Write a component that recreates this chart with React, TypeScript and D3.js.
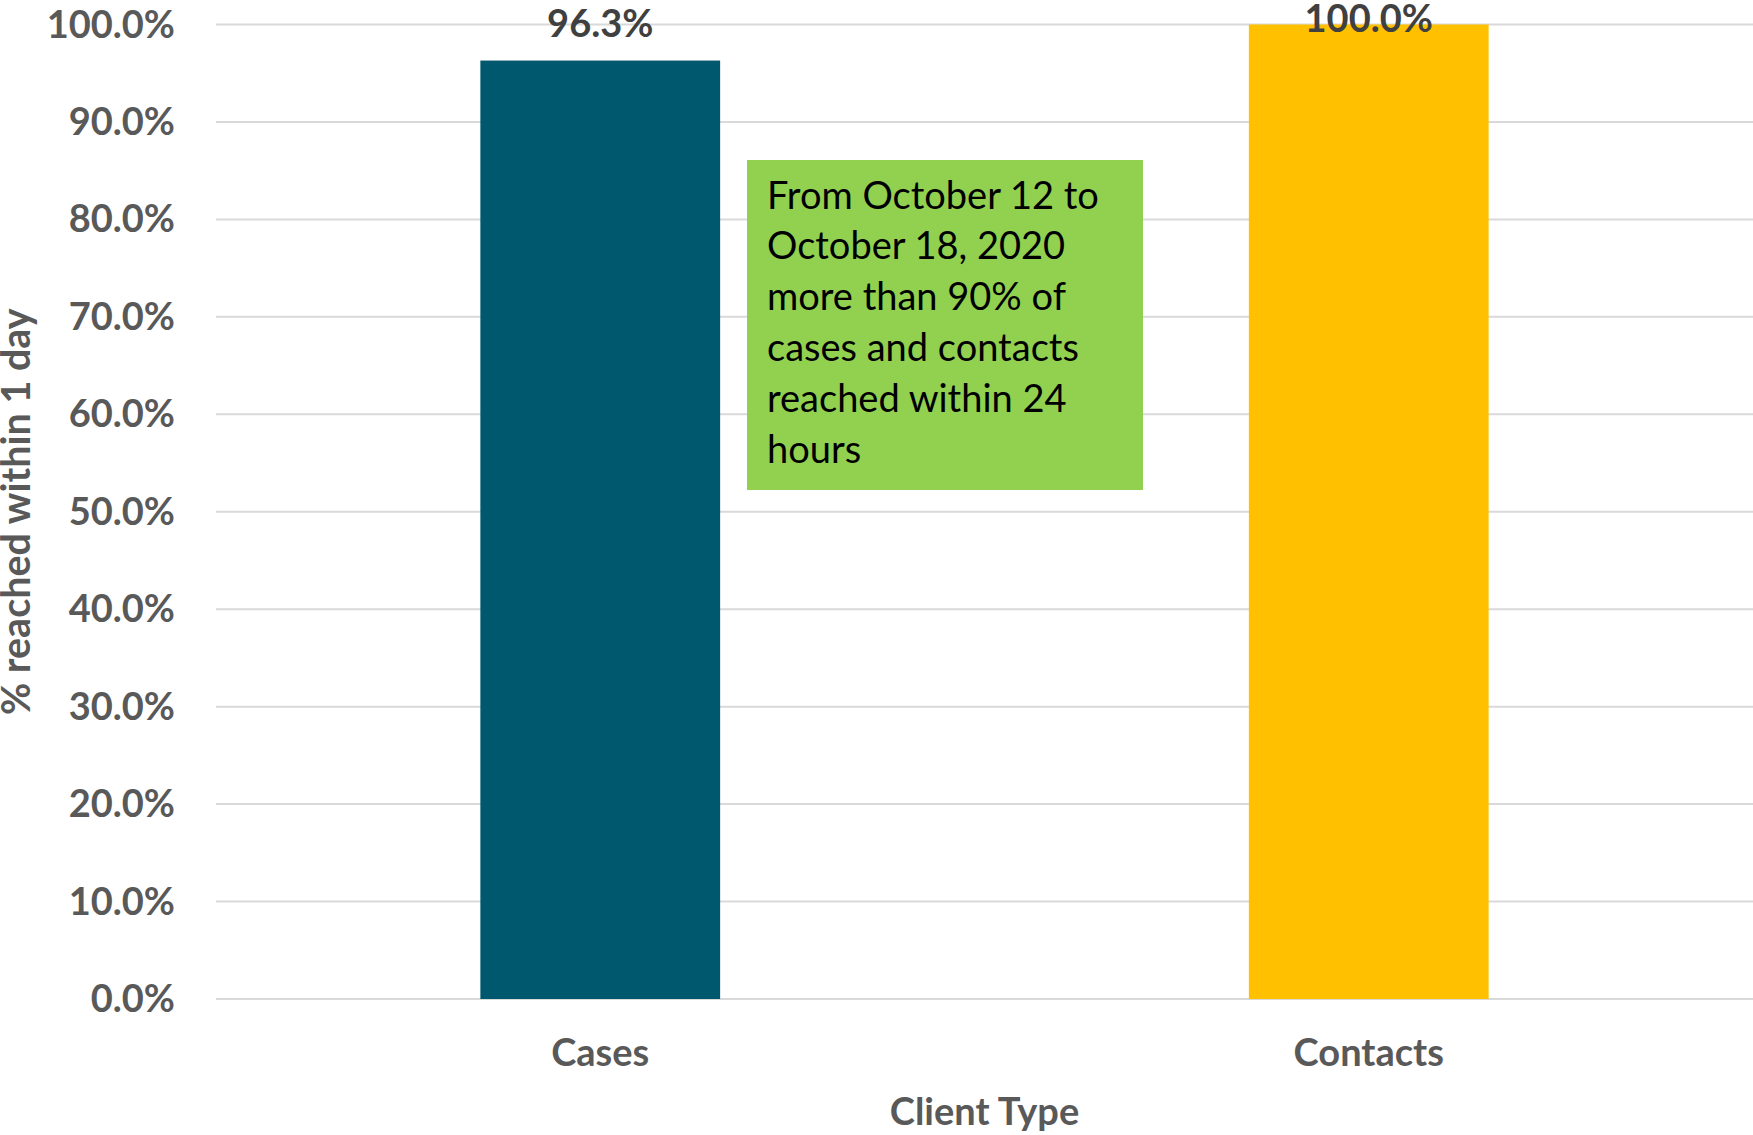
import * as d3 from "d3";

const categories = ["Cases", "Contacts"];
const values = [96.3, 100.0];
const barColors = ["#00586E", "#FFC000"];
const yTicks = [0, 10, 20, 30, 40, 50, 60, 70, 80, 90, 100];
const noteLines = [
  "From October 12 to",
  "October 18, 2020",
  "more than 90% of",
  "cases and contacts",
  "reached within 24",
  "hours",
];

const width = 1753;
const height = 1135;
const margin = { top: 24.5, right: 0, bottom: 136, left: 216 };
const font = "Lato, 'Open Sans', sans-serif";

export default function App() {
  const x = d3
    .scaleBand()
    .domain(categories)
    .range([margin.left, width - margin.right])
    .padding(0);

  const y = d3
    .scaleLinear()
    .domain([0, 100])
    .range([height - margin.bottom, margin.top]);

  const barW = x.bandwidth() * 0.312;

  return (
    <svg
      width={width}
      height={height}
      style={{ position: "absolute", left: 0, top: 0, background: "#fff" }}
      fontFamily={font}
    >
      {/* gridlines */}
      <g>
        {yTicks.map((t) => (
          <line
            key={t}
            x1={margin.left}
            x2={width - margin.right}
            y1={y(t)}
            y2={y(t)}
            stroke="#d9d9d9"
            strokeWidth={2}
          />
        ))}
      </g>

      {/* tick labels */}
      <g fill="#595959" fontWeight={700} fontSize={38} textAnchor="end">
        {yTicks.map((t) => (
          <text key={t} x={175} y={y(t) + 13}>
            {t.toFixed(1) + "%"}
          </text>
        ))}
      </g>

      {/* bars */}
      <g>
        {categories.map((c, i) => (
          <rect
            key={c}
            x={x(c)! + (x.bandwidth() - barW) / 2}
            y={y(values[i])}
            width={barW}
            height={y(0) - y(values[i])}
            fill={barColors[i]}
          />
        ))}
      </g>

      {/* data labels */}
      <g fill="#404040" fontWeight={700} fontSize={38} textAnchor="middle">
        {categories.map((c, i) => (
          <text
            key={c}
            x={x(c)! + x.bandwidth() / 2}
            y={Math.max(y(values[i]) - 24, 32)}
          >
            {values[i].toFixed(1) + "%"}
          </text>
        ))}
      </g>

      {/* category labels */}
      <g fill="#595959" fontWeight={700} fontSize={38} textAnchor="middle">
        {categories.map((c) => (
          <text key={c} x={x(c)! + x.bandwidth() / 2} y={1066}>
            {c}
          </text>
        ))}
      </g>

      {/* axis titles */}
      <text
        x={(margin.left + width - margin.right) / 2}
        y={1125}
        textAnchor="middle"
        fill="#595959"
        fontWeight={700}
        fontSize={38}
      >
        Client Type
      </text>
      <text
        transform={`translate(30,${(y(0) + y(100)) / 2}) rotate(-90)`}
        textAnchor="middle"
        fill="#595959"
        fontWeight={700}
        fontSize={39.5}
      >
        % reached within 1 day
      </text>

      {/* annotation */}
      <g>
        <rect x={747} y={160} width={396} height={330} fill="#92D050" />
        <g fontSize={38} fill="#000">
          {noteLines.map((l, i) => (
            <text key={i} x={767} y={208.5 + i * 50.9}>
              {l}
            </text>
          ))}
        </g>
      </g>
    </svg>
  );
}
